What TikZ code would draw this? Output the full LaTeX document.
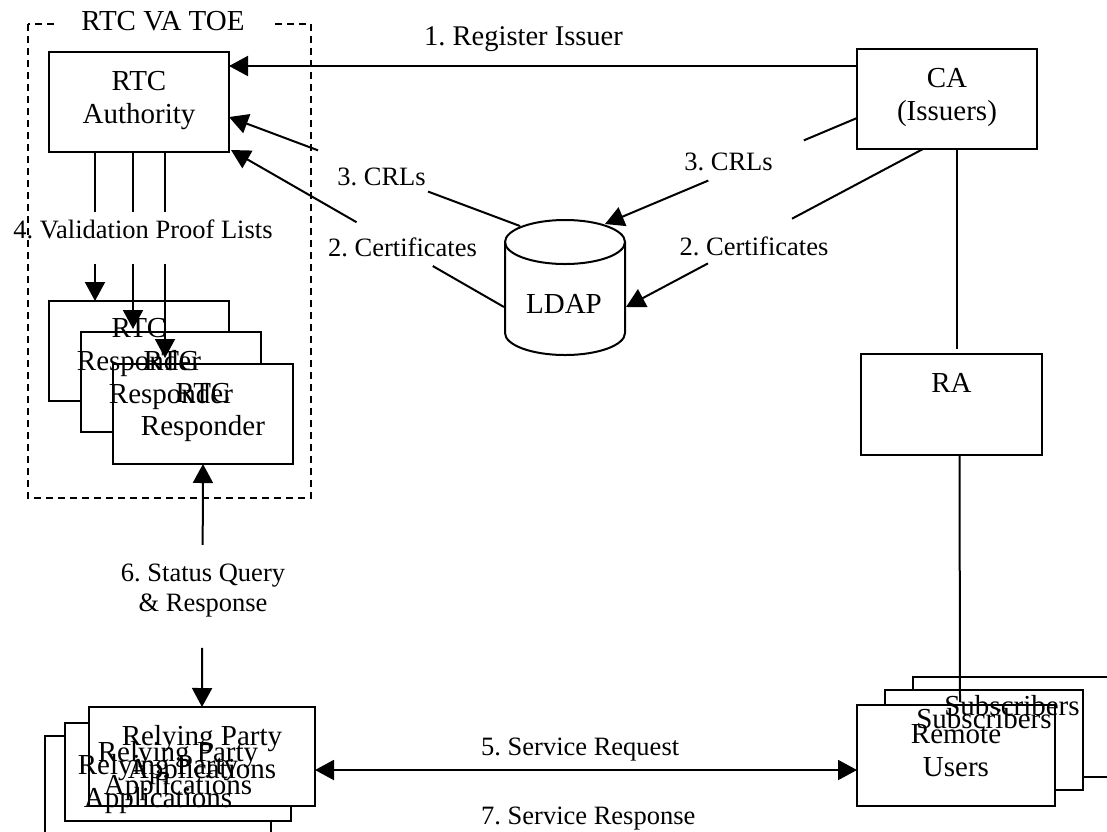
\documentclass[tikz,border=0pt]{standalone}
\usepackage{fontspec}
\setmainfont{Liberation Serif}
\usetikzlibrary{arrows.meta,calc}
\frenchspacing

\tikzset{
  pen/.style={line width=2pt},
  box/.style={draw, pen, fill=white, rectangle, inner sep=0pt, outer sep=0pt, anchor=north west},
  stdbox/.style={box, minimum width=180pt, minimum height=100pt},
  rpbox/.style={box, minimum width=226pt, minimum height=99pt},
  subbox/.style={box, minimum width=198pt, minimum height=100pt},
  boxtext/.style={font=\fontsize{29}{33.5}\selectfont, align=center, inner sep=0pt, anchor=north},
  linklabel/.style={font=\fontsize{26.5}{30}\selectfont, inner sep=0pt, align=center},
  tip/.tip={Triangle[length=19pt,width=20pt]},
  arr/.style={pen, -tip},
  biarr/.style={pen, tip-tip},
  toeframe/.style={pen, dash pattern=on 7pt off 5pt},
}

\begin{document}
\begin{tikzpicture}[x=1pt,y=1pt]
  \fill[white] (0,0) rectangle (1107,-831);
  \clip (0,0) rectangle (1107,-831);

  % dashed boundary of the RTC VA TOE
  \draw[toeframe] (28,-24) rectangle (311,-498);
  \node[font=\fontsize{29}{33.5}\selectfont, fill=white, inner xsep=26pt, inner ysep=3pt, anchor=base]
    (toelbl) at (163,-30) {RTC VA TOE};

  % LDAP directory (cylinder)
  \draw[pen, fill=white] (505,-242) -- (505,-333)
    arc[start angle=180, end angle=360, x radius=60, y radius=22] -- (625,-242)
    arc[start angle=0, end angle=180, x radius=60, y radius=22] -- cycle;
  \draw[pen] (505,-242) arc[start angle=180, end angle=360, x radius=60, y radius=22];
  \node[font=\fontsize{29}{33.5}\selectfont, inner sep=0pt, anchor=base] (ldap) at (564,-313) {LDAP};
  \coordinate (ldapTL) at (520,-226);
  \coordinate (ldapL)  at (504,-307);
  \coordinate (ldapTR) at (605,-224);
  \coordinate (ldapR)  at (626,-307);

  % boxes, back to front
  \node[stdbox] (auth)  at (49,-52)  {};
  \node[stdbox] (ca)    at (857,-49) {};
  \node[stdbox, minimum width=181pt, minimum height=101pt] (ra) at (861,-354) {};
  \node[stdbox] (resp1) at (49,-301)  {};
  \node[stdbox] (resp2) at (81,-332)  {};
  \node[stdbox] (resp3) at (113,-364) {};
  \node[rpbox]  (rp3)   at (45,-736)  {};
  \node[rpbox, minimum height=98pt] (rp2) at (65,-723) {};
  \node[rpbox]  (rp1)   at (89,-707)  {};
  \node[subbox] (sub3)  at (913,-677) {};
  \node[subbox] (sub2)  at (885,-690) {};
  \node[subbox, minimum height=101pt] (sub1) at (857,-705) {};

  % box texts
  \node[boxtext] (authtxt)  at ([yshift=-19pt]auth.north)  {RTC\\Authority};
  \node[boxtext] (catxt)    at ([yshift=-19pt]ca.north)    {CA\\(Issuers)};
  \node[boxtext] (ratxt)    at ([yshift=-19pt]ra.north)    {RA};
  \node[boxtext] (resp1txt) at ([yshift=-17pt]resp1.north) {RTC\\Responder};
  \node[boxtext] (resp2txt) at ([yshift=-19pt]resp2.north) {RTC\\Responder};
  \node[boxtext] (resp3txt) at ([yshift=-19pt]resp3.north) {RTC\\Responder};
  \node[boxtext] (rp3txt)   at ([yshift=-18pt]rp3.north)   {Relying Party\\Applications};
  \node[boxtext] (rp2txt)   at ([yshift=-18pt]rp2.north)   {Relying Party\\Applications};
  \node[boxtext] (rp1txt)   at ([yshift=-18pt]rp1.north)   {Relying Party\\Applications};
  \node[boxtext] (sub3txt)  at ([yshift=-18pt]sub3.north)  {Subscribers};
  \node[boxtext] (sub2txt)  at ([yshift=-18pt]sub2.north)  {Subscribers};
  \node[boxtext] (sub1txt)  at ([yshift=-19pt]sub1.north)  {Remote\\Users};

  % attachment points on the boxes
  \coordinate (caCrl)    at ([yshift=-19pt]ca.west);
  \coordinate (caCert)   at ([xshift=-24pt]ca.south);
  \coordinate (authCrl)  at ([yshift=-15pt]auth.east);
  \coordinate (authCert) at ([xshift=2pt,yshift=2pt]auth.south east);
  \coordinate (v1s) at ([xshift=-44pt]auth.south);
  \coordinate (v1e) at ([xshift=-44pt]resp1.north);
  \coordinate (v2s) at ([xshift=-6pt]auth.south);
  \coordinate (v2e) at ([xshift=-38pt,yshift=3pt]resp2.north);
  \coordinate (v3s) at ([xshift=26pt]auth.south);
  \coordinate (v3e) at ([xshift=-38pt,yshift=6pt]resp3.north);

  % 1. register issuer
  \draw[arr] ([yshift=33pt]ca.west) -- ([yshift=36pt]auth.east);
  % 2./3. certificates and CRLs from the CA to LDAP
  \draw[arr] (caCrl) -- ($(caCrl)!0.211!(ldapTR)$) ($(caCrl)!0.590!(ldapTR)$) -- (ldapTR);
  \draw[arr] (caCert) -- ($(caCert)!0.441!(ldapR)$) ($(caCert)!0.724!(ldapR)$) -- (ldapR);
  % 2./3. certificates and CRLs from LDAP to the RTC Authority
  \draw[arr] (ldapTL) -- ($(ldapTL)!0.316!(authCrl)$) ($(ldapTL)!0.694!(authCrl)$) -- (authCrl);
  \draw[arr] (ldapL) -- ($(ldapL)!0.261!(authCert)$) ($(ldapL)!0.540!(authCert)$) -- (authCert);
  % 4. validation proof lists
  \draw[arr] (v1s) -- ($(v1s)!0.403!(v1e)$) ($(v1s)!0.752!(v1e)$) -- (v1e);
  \draw[arr] (v2s) -- ($(v2s)!0.339!(v2e)$) ($(v2s)!0.633!(v2e)$) -- (v2e);
  \draw[arr] (v3s) -- ($(v3s)!0.291!(v3e)$) ($(v3s)!0.544!(v3e)$) -- (v3e);
  % 6. status query (up) and response (down)
  \draw[arr] ($(rp1.north)!0.667!(resp3.south)$) -- (resp3.south);
  \draw[arr] ($(resp3.south)!0.757!(rp1.north)$) -- (rp1.north);
  % 5./7. service request and response
  \draw[biarr] ([yshift=-13.5pt]rp1.east) -- ([yshift=-14.5pt]sub1.west);
  % CA -- RA -- subscribers
  \draw[pen] ([xshift=10pt]ca.south) -- ([xshift=5.5pt,yshift=5pt]ra.north);
  \draw[pen] ([xshift=8pt]ra.south) -- ([xshift=4pt,yshift=3pt]sub1.north);

  % connector labels
  \node[linklabel, font=\fontsize{28.5}{32}\selectfont, anchor=base] (lreg) at (523.5,-45) {1. Register Issuer};
  \node[linklabel, anchor=base] (lcrlL)  at (381.5,-185) {3. CRLs};
  \node[linklabel, anchor=base] (lcertL) at (402.5,-256) {2. Certificates};
  \node[linklabel, anchor=base] (lcrlR)  at (728.5,-170) {3. CRLs};
  \node[linklabel, anchor=base] (lcertR) at (754,-255)   {2. Certificates};
  \node[linklabel, anchor=base] (lvpl)   at (143,-238)   {4. Validation Proof Lists};
  \node[linklabel, anchor=north] (lstat) at (203,-564)   {6. Status Query\\\& Response};
  \node[linklabel, anchor=base west] (lreq)  at (481,-755) {5. Service Request};
  \node[linklabel, anchor=base west] (lresp) at (481,-824) {7. Service Response};
\end{tikzpicture}
\end{document}
